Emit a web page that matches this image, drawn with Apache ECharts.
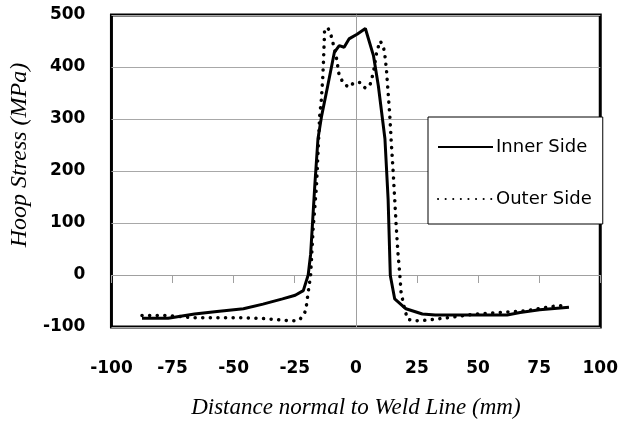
<!DOCTYPE html>
<html>
<head>
<meta charset="utf-8">
<script src="https://cdn.jsdelivr.net/npm/echarts@6/dist/echarts.min.js"></script>
<style>
  html, body { margin: 0; padding: 0; background: #fff; }
  #chart { width: 621px; height: 425px; }
</style>
</head>
<body>
<div id="chart"></div>
<script>
// distance normal to weld line (mm) / hoop stress (MPa)
var innerX = [-87.5, -76.8, -66, -56.8, -46, -38, -30, -24.8, -21.5, -19.5, -18.5, -16.8, -15.5, -14, -11.5, -8.8, -6.8, -4.8, -2.8, 0.5, 3.9, 7.2, 9.2, 11.9, 13.2, 14.1, 15.9, 20.5, 27.2, 32.5, 45.9, 61.9, 67.2, 75.2, 87.2];
var innerY = [-83, -83, -75, -70, -65, -56, -46, -39, -30, 0, 40, 172, 262, 306, 364, 428, 441, 438, 454, 463, 474, 422, 364, 262, 146, -1, -46, -65, -75, -77, -77, -77, -72, -67, -62];

var outerX = [-87.5, -77, -67, -57, -47, -37, -27, -24, -22.8, -20.5, -19.5, -18.5, -17.5, -16.1, -14.8, -14.1, -13.5, -13.1, -12.8, -11.5, -10.1, -8.1, -6.8, -4.8, -2.8, -0.8, 1.9, 3.9, 5.9, 7.2, 8.5, 9.9, 11.2, 11.9, 12.5, 13.2, 13.9, 14.5, 15.2, 15.9, 16.5, 17.2, 18, 18.5, 19.9, 21.2, 23.9, 29.2, 39.2, 49.2, 59.2, 69.2, 78.5, 81.2, 83.9];
var outerY = [-78, -78, -82, -82, -82, -84, -88, -88, -85, -69, -33, 0, 88, 172, 306, 338, 383, 428, 470, 476, 460, 422, 383, 367, 361, 370, 370, 359, 367, 390, 428, 450, 441, 422, 396, 351, 306, 255, 204, 146, 95, 44, 0, -33, -65, -85, -88, -87, -81, -75, -72, -69, -62, -60, -59];

var xMin = -100, xMax = 100, xStep = 25;
var yMin = -100, yMax = 500, yStep = 100;

function pairs(xs, ys) {
  return xs.map(function (x, i) { return [x, ys[i]]; });
}

var chart = echarts.init(document.getElementById('chart'));
var labelFont = { color: '#000', fontFamily: 'DejaVu Sans', fontWeight: 'bold', fontSize: 17 };

var option = {
  animation: false,
  grid: {
    left: 102, right: 19, top: 15, bottom: 98,
    show: true, borderColor: '#000', borderWidth: 3, backgroundColor: 'transparent'
  },
  legend: {
    orient: 'vertical',
    left: 428, top: 117,
    backgroundColor: '#fff',
    borderColor: '#000', borderWidth: 1, borderRadius: 0,
    padding: [21, 11, 16, 9],
    itemWidth: 55, itemHeight: 14, itemGap: 34,
    itemStyle: { opacity: 0 },
    textStyle: { color: '#000', fontFamily: 'DejaVu Sans', fontSize: 18, padding: [0, 0, 0, -2] },
    data: ['Inner Side', 'Outer Side']
  },
  xAxis: [
    {
      type: 'value', min: xMin, max: xMax, interval: xStep,
      position: 'bottom',
      axisLine: { show: false },
      axisTick: { show: false },
      splitLine: { show: false },
      axisLabel: Object.assign({ margin: 33 }, labelFont),
      name: 'Distance normal to Weld Line (mm)',
      nameLocation: 'middle', nameGap: 69,
      nameTextStyle: { color: '#000', fontFamily: 'Liberation Serif', fontStyle: 'italic', fontSize: 23 }
    },
    {
      type: 'value', min: xMin, max: xMax, interval: xStep,
      position: 'top',
      axisLine: { show: true, onZero: true, lineStyle: { color: '#a0a0a0', width: 1 } },
      axisTick: { show: true, inside: true, length: 8, lineStyle: { color: '#a0a0a0' } },
      axisLabel: { show: false },
      splitLine: { show: false }
    }
  ],
  yAxis: [
    {
      type: 'value', min: yMin, max: yMax, interval: yStep,
      position: 'left',
      axisLine: { show: false },
      axisTick: { show: false },
      splitLine: { show: true, lineStyle: { color: '#a8a8a8', width: 1 } },
      axisLabel: Object.assign({ margin: 26 }, labelFont),
      name: 'Hoop Stress (MPa)',
      nameLocation: 'middle', nameGap: 59,
      nameTextStyle: { color: '#000', fontFamily: 'Liberation Serif', fontStyle: 'italic', fontSize: 24, padding: [0, 0, 0, 32] }
    },
    {
      type: 'value', min: yMin, max: yMax, interval: yStep,
      position: 'right',
      axisLine: { show: true, onZero: true, lineStyle: { color: '#a0a0a0', width: 1 } },
      axisTick: { show: true, inside: true, length: 5, lineStyle: { color: '#a0a0a0' } },
      axisLabel: { show: false },
      splitLine: { show: false }
    }
  ],
  series: [
    {
      name: 'Inner Side',
      type: 'line',
      showSymbol: false, symbol: 'none',
      data: pairs(innerX, innerY),
      lineStyle: { color: '#000', width: 3 },
      itemStyle: { color: '#000' },
      z: 3
    },
    {
      name: 'Outer Side',
      type: 'line',
      showSymbol: false, symbol: 'none',
      data: pairs(outerX, outerY),
      lineStyle: { color: '#000', width: 3.5, type: [0.1, 7.5], cap: 'round' },
      itemStyle: { color: '#000' },
      z: 2
    }
  ]
};

chart.setOption(option);
</script>
</body>
</html>
